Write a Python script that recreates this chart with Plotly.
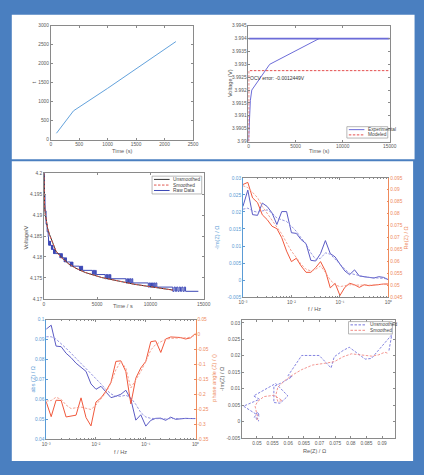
import plotly.graph_objects as go

# ---------------- data ----------------
# Panel A: t against elapsed time
calib_time = [100, 400, 1000, 2200]
calib_t = [165, 757, 1350, 2583]

# Panel B: OCV relaxation, experiment vs model
exp_time = [0, 30, 60, 100, 200, 350, 2250, 7500, 15000]
exp_voltage = [3.9900, 3.9903, 3.9908, 3.9912, 3.9916, 3.9920, 3.9930, 3.9940, 3.9940]
ocv_time = [0, 15000]
ocv_voltage = [3.9940, 3.9940]
model_time = [30, 30, 15000]
model_voltage = [3.9900, 3.9927551, 3.9927551]
ocv_error = -0.0012449

# Panel C: relaxation voltage, fitted curves and raw samples
fit_time = [0, 20, 60, 120, 210, 350, 520, 800, 1130, 1600, 2350, 3000, 3870,
            5400, 7000, 8440, 10000, 11500, 12100]
unsmoothed_v = [4.2000, 4.1955, 4.1925, 4.1903, 4.1885, 4.1868, 4.1854, 4.1835,
                4.1814, 4.1800, 4.1783, 4.1773, 4.1763, 4.1751, 4.1742, 4.1735,
                4.1729, 4.1724, 4.1721]
smoothed_v = [4.2000, 4.1957, 4.1926, 4.1904, 4.1886, 4.1868, 4.1853, 4.1834,
              4.1814, 4.1799, 4.1783, 4.1773, 4.1763, 4.1751, 4.1742, 4.1735,
              4.1729, 4.1724, 4.1721]
raw_time = [0, 40, 100, 200, 300, 400,
            430, 450, 470, 490, 510, 530, 550, 575, 600, 610,
            700, 720, 745, 770, 795, 820, 830,
            900, 925, 950, 975, 1000, 1030, 1060,
            1500, 1540, 1580, 1620, 1660, 1700, 1720,
            1900, 1935, 1970, 2005, 2040, 2075, 2110,
            2480, 2520, 2560, 2600, 2640, 2680, 2720,
            3330, 3380, 3430, 3480, 3530, 3580, 3630,
            4550, 4610, 4670, 4730, 4790, 4850, 4910,
            5750, 5820, 5890, 5960, 6030, 6100, 6170, 6240, 6280,
            7700, 7780, 7860, 7940, 8020, 8100, 8180, 8260, 8340,
            9800, 9900, 10000, 10100, 10200, 10300, 10400, 10500, 10600,
            12100, 12220, 12340, 12460, 12580, 12700, 12820, 12940, 13060, 13180, 13300,
            14500]
raw_voltage = [4.2000, 4.1950, 4.1910, 4.1878, 4.1860, 4.1848,
               4.1838, 4.1828, 4.1838, 4.1828, 4.1838, 4.1828, 4.1838, 4.1828, 4.1838, 4.1828,
               4.1818, 4.1828, 4.1818, 4.1828, 4.1818, 4.1828, 4.1818,
               4.1808, 4.1818, 4.1808, 4.1818, 4.1808, 4.1818, 4.1808,
               4.1798, 4.1808, 4.1798, 4.1808, 4.1798, 4.1808, 4.1798,
               4.1788, 4.1798, 4.1788, 4.1798, 4.1788, 4.1798, 4.1788,
               4.1778, 4.1788, 4.1778, 4.1788, 4.1778, 4.1788, 4.1778,
               4.1768, 4.1778, 4.1768, 4.1778, 4.1768, 4.1778, 4.1768,
               4.1758, 4.1768, 4.1758, 4.1768, 4.1758, 4.1768, 4.1758,
               4.1748, 4.1758, 4.1748, 4.1758, 4.1748, 4.1758, 4.1748, 4.1758, 4.1748,
               4.1738, 4.1748, 4.1738, 4.1748, 4.1738, 4.1748, 4.1738, 4.1748, 4.1738,
               4.1728, 4.1738, 4.1728, 4.1738, 4.1728, 4.1738, 4.1728, 4.1738, 4.1728,
               4.1718, 4.1728, 4.1718, 4.1728, 4.1718, 4.1728, 4.1718, 4.1728, 4.1718, 4.1728, 4.1718,
               4.1718]

# Panels D-F: impedance spectrum
freq = [0.001, 0.00126, 0.00158, 0.002, 0.00251, 0.00316, 0.00398, 0.00501,
        0.00631, 0.00794, 0.01, 0.0126, 0.0158, 0.02, 0.0251, 0.0316, 0.0398,
        0.0501, 0.0631, 0.0794, 0.1, 0.126, 0.158, 0.2, 0.251, 0.316, 0.398,
        0.501, 0.631, 0.794, 1.0]
neg_im_raw = [0.0216, 0.0264, 0.0192, 0.0190, 0.0226, 0.0216, 0.0197, 0.0163,
              0.0201, 0.0201, 0.0139, 0.0137, 0.0119, 0.0107, 0.0058, 0.0056,
              0.0078, 0.0116, 0.0078, 0.0068, 0.0047, 0.0027, 0.0016, 0.0030,
              0.0012, 0.0010, 0.0006, 0.0006, 0.0010, 0.0008, 0.0001]
neg_im_smooth = [0.0208, 0.0211, 0.0203, 0.0199, 0.0203, 0.0206, 0.0197, 0.0182,
                 0.0177, 0.0172, 0.0158, 0.0143, 0.0124, 0.0105, 0.0080, 0.0061,
                 0.0064, 0.0080, 0.0076, 0.0061, 0.0047, 0.0032, 0.0020, 0.0016,
                 0.0013, 0.0010, 0.0008, 0.0006, 0.0006, 0.0005, 0.0003]
re_raw = [0.0922, 0.0931, 0.0866, 0.0846, 0.0795, 0.0775, 0.0747, 0.0737,
          0.0699, 0.0643, 0.0599, 0.0613, 0.0581, 0.0554, 0.0554, 0.0574,
          0.0599, 0.0560, 0.0489, 0.0508, 0.0457, 0.0491, 0.0508, 0.0502,
          0.0491, 0.0502, 0.0498, 0.0501, 0.0502, 0.0505, 0.0505]
re_smooth = [0.0917, 0.0909, 0.0889, 0.0867, 0.0830, 0.0802, 0.0775, 0.0747,
             0.0715, 0.0678, 0.0643, 0.0616, 0.0588, 0.0567, 0.0560, 0.0567,
             0.0581, 0.0554, 0.0522, 0.0502, 0.0494, 0.0498, 0.0502, 0.0501,
             0.0500, 0.0500, 0.0500, 0.0501, 0.0502, 0.0503, 0.0505]
abs_raw = [0.0952, 0.0972, 0.0867, 0.0864, 0.0831, 0.0809, 0.0781, 0.0760,
           0.0740, 0.0677, 0.0650, 0.0665, 0.0635, 0.0608, 0.0615, 0.0625,
           0.0645, 0.0600, 0.0495, 0.0522, 0.0465, 0.0494, 0.0504, 0.0505,
           0.0494, 0.0510, 0.0499, 0.0502, 0.0504, 0.0503, 0.0503]
abs_smooth = [0.0914, 0.0914, 0.0902, 0.0881, 0.0856, 0.0831, 0.0806, 0.0781,
              0.0756, 0.0731, 0.0703, 0.0677, 0.0649, 0.0627, 0.0615, 0.0615,
              0.0620, 0.0607, 0.0574, 0.0533, 0.0511, 0.0504, 0.0503, 0.0501,
              0.0501, 0.0503, 0.0503, 0.0503, 0.0503, 0.0503, 0.0503]
phase_raw = [-0.225, -0.275, -0.220, -0.221, -0.276, -0.273, -0.270, -0.212,
             -0.278, -0.306, -0.226, -0.212, -0.190, -0.160, -0.090, -0.088,
             -0.124, -0.232, -0.146, -0.112, -0.090, -0.024, -0.021, -0.060,
             -0.015, -0.008, -0.008, -0.010, -0.015, -0.011, 0.004]
phase_smooth = [-0.223, -0.221, -0.210, -0.217, -0.236, -0.248, -0.245, -0.243,
                -0.247, -0.251, -0.236, -0.217, -0.195, -0.162, -0.118, -0.090,
                -0.113, -0.179, -0.151, -0.124, -0.090, -0.052, -0.033, -0.024,
                -0.016, -0.013, -0.011, -0.011, -0.011, -0.009, -0.002]

# tick labels
volt_b_ticks = [3.99, 3.9905, 3.991, 3.9915, 3.992, 3.9925, 3.993, 3.9935, 3.994, 3.9945]
volt_b_text = ["3.99", "3.9905", "3.991", "3.9915", "3.992", "3.9925", "3.993", "3.9935", "3.994", "3.9945"]
volt_c_ticks = [4.17, 4.175, 4.18, 4.185, 4.19, 4.195, 4.2]
volt_c_text = ["4.17", "4.175", "4.18", "4.185", "4.19", "4.195", "4.2"]
time_ticks = [0, 5000, 10000, 15000]
time_text = ["0", "5000", "10000", "15000"]
imz_ticks = [-0.005, 0, 0.005, 0.01, 0.015, 0.02, 0.025, 0.03]
imz_text = ["-0.005", "0", "0.005", "0.01", "0.015", "0.02", "0.025", "0.03"]
rez_ticks = [0.045, 0.05, 0.055, 0.06, 0.065, 0.07, 0.075, 0.08, 0.085, 0.09, 0.095]
rez_text = ["0.045", "0.05", "0.055", "0.06", "0.065", "0.07", "0.075", "0.08", "0.085", "0.09", "0.095"]
absz_ticks = [0.04, 0.05, 0.06, 0.07, 0.08, 0.09, 0.1]
absz_text = ["0.04", "0.05", "0.06", "0.07", "0.08", "0.09", "0.1"]
phase_ticks = [-0.35, -0.3, -0.25, -0.2, -0.15, -0.1, -0.05, 0, 0.05]
phase_text = ["-0.35", "-0.3", "-0.25", "-0.2", "-0.15", "-0.1", "-0.05", "0", "0.05"]
nyq_x_ticks = [0.05, 0.055, 0.06, 0.065, 0.07, 0.075, 0.08, 0.085, 0.09]
nyq_x_text = ["0.05", "0.055", "0.06", "0.065", "0.07", "0.075", "0.08", "0.085", "0.09"]
freq_ticks = [0.001, 0.01, 0.1, 1]
freq_text = ["10\u207b\u00b3", "10\u207b\u00b2", "10\u207b\u00b9", "10\u2070"]
freq_minor = [m * d for d in (0.001, 0.01, 0.1) for m in range(2, 10)]

# ---------------- styling ----------------
W, H = 424, 475
FRAME = "#4a7fc0"
AXC = "#8a8a8a"
TXT = "#5a5a5a"
FONT = "Liberation Sans, Arial, sans-serif"
LEFT_C = "#5b9bd5"
RIGHT_C = "#ee8a5c"
TICK_FS = 4.8
TITLE_FS = 5.6
DASH = "2.5px,1.5px"


def fx(px):
    return px / W


def fy(py):
    return 1 - py / H


def xdom(a, b):
    return [fx(a), fx(b)]


def ydom(top, bottom):
    return [fy(bottom), fy(top)]


def ax(**kw):
    base = dict(showline=True, linecolor=AXC, linewidth=0.8, mirror="ticks",
                ticks="inside", ticklen=2, tickwidth=0.7, tickcolor=AXC,
                showgrid=False, zeroline=False, fixedrange=True,
                tickfont=dict(size=TICK_FS, color=TXT, family=FONT))
    base.update(kw)
    return base


fig = go.Figure()

# Panel A
fig.add_trace(go.Scatter(x=calib_time, y=calib_t, mode="lines", name="t",
                         line=dict(color="#63a2dc", width=1), xaxis="x", yaxis="y"))
# Panel B
fig.add_trace(go.Scatter(x=ocv_time, y=ocv_voltage, mode="lines", name="Experimental",
                         line=dict(color="#6c6cd8", width=1.8), xaxis="x2", yaxis="y2"))
fig.add_trace(go.Scatter(x=exp_time, y=exp_voltage, mode="lines", name="Experimental",
                         line=dict(color="#6c6cd8", width=1), xaxis="x2", yaxis="y2"))
fig.add_trace(go.Scatter(x=model_time, y=model_voltage, mode="lines", name="Modeled",
                         line=dict(color="#e45050", width=1, dash=DASH), xaxis="x2", yaxis="y2"))
# Panel C
fig.add_trace(go.Scatter(x=raw_time, y=raw_voltage, mode="lines", name="Raw Data",
                         line=dict(color="#3c48b6", width=1, shape="hv"), xaxis="x3", yaxis="y3"))
fig.add_trace(go.Scatter(x=fit_time, y=unsmoothed_v, mode="lines", name="Unsmoothed",
                         line=dict(color="#333333", width=1), xaxis="x3", yaxis="y3"))
fig.add_trace(go.Scatter(x=fit_time, y=smoothed_v, mode="lines", name="Smoothed",
                         line=dict(color="#e05a50", width=1, dash=DASH), xaxis="x3", yaxis="y3"))
# Panel D
fig.add_trace(go.Scatter(x=freq, y=neg_im_raw, mode="lines", name="-Im(Z)",
                         line=dict(color="#5b5bc4", width=1), xaxis="x4", yaxis="y4"))
fig.add_trace(go.Scatter(x=freq, y=neg_im_smooth, mode="lines", name="-Im(Z) smoothed",
                         line=dict(color="#8888dc", width=0.9, dash=DASH), xaxis="x4", yaxis="y4"))
fig.add_trace(go.Scatter(x=freq, y=re_raw, mode="lines", name="Re(Z)",
                         line=dict(color="#f0583c", width=1), xaxis="x4", yaxis="y5"))
fig.add_trace(go.Scatter(x=freq, y=re_smooth, mode="lines", name="Re(Z) smoothed",
                         line=dict(color="#f49a88", width=0.9, dash=DASH), xaxis="x4", yaxis="y5"))
# Panel E
fig.add_trace(go.Scatter(x=freq, y=abs_raw, mode="lines", name="abs(Z)",
                         line=dict(color="#5b5bc4", width=1), xaxis="x5", yaxis="y6"))
fig.add_trace(go.Scatter(x=freq, y=abs_smooth, mode="lines", name="abs(Z) smoothed",
                         line=dict(color="#8888dc", width=0.9, dash=DASH), xaxis="x5", yaxis="y6"))
fig.add_trace(go.Scatter(x=freq, y=phase_raw, mode="lines", name="phase",
                         line=dict(color="#f0583c", width=1), xaxis="x5", yaxis="y7"))
fig.add_trace(go.Scatter(x=freq, y=phase_smooth, mode="lines", name="phase smoothed",
                         line=dict(color="#f49a88", width=0.9, dash=DASH), xaxis="x5", yaxis="y7"))
# Panel F: Nyquist
fig.add_trace(go.Scatter(x=re_raw, y=neg_im_raw, mode="lines", name="Unsmoothed",
                         line=dict(color="#7676dc", width=0.9, dash=DASH), xaxis="x6", yaxis="y8"))
fig.add_trace(go.Scatter(x=re_smooth, y=neg_im_smooth, mode="lines", name="Smoothed",
                         line=dict(color="#f08a84", width=0.9, dash=DASH), xaxis="x6", yaxis="y8"))

logx = dict(type="log", range=[-3, 0], tickvals=freq_ticks, ticktext=freq_text,
            minor=dict(ticks="inside", ticklen=1.2, tickcolor=AXC, tickvals=freq_minor))

fig.update_layout(
    width=W, height=H, margin=dict(l=0, r=0, t=0, b=0),
    paper_bgcolor=FRAME, plot_bgcolor="white", showlegend=False,
    font=dict(family=FONT, color=TXT),
    xaxis=ax(domain=xdom(48, 194), anchor="y", range=[0, 2500], tickvals=[0, 500, 1000, 1500, 2000, 2500]),
    yaxis=ax(domain=ydom(24, 139), anchor="x", range=[0, 3000], tickvals=[0, 500, 1000, 1500, 2000, 2500, 3000]),
    xaxis2=ax(domain=xdom(251, 396), anchor="y2", range=[0, 15000], tickvals=time_ticks, ticktext=time_text),
    yaxis2=ax(domain=ydom(24, 141), anchor="x2", range=[3.99, 3.9945], tickvals=volt_b_ticks, ticktext=volt_b_text),
    xaxis3=ax(domain=xdom(41, 205), anchor="y3", range=[0, 15000], tickvals=time_ticks, ticktext=time_text),
    yaxis3=ax(domain=ydom(173, 300), anchor="x3", range=[4.17, 4.2], tickvals=volt_c_ticks, ticktext=volt_c_text),
    xaxis4=ax(domain=xdom(245.3, 394.7), anchor="y4", **logx),
    yaxis4=ax(domain=ydom(177.7, 298.3), anchor="x4", range=[-0.005, 0.03], tickvals=imz_ticks, ticktext=imz_text,
              mirror=False, linecolor=LEFT_C, tickcolor=LEFT_C, tickfont=dict(size=TICK_FS, color=LEFT_C, family=FONT)),
    yaxis5=ax(overlaying="y4", side="right", anchor="x4", range=[0.045, 0.095], tickvals=rez_ticks, ticktext=rez_text,
              mirror=False, linecolor=RIGHT_C, tickcolor=RIGHT_C, tickfont=dict(size=TICK_FS, color=RIGHT_C, family=FONT)),
    xaxis5=ax(domain=xdom(43.3, 196.7), anchor="y6", **logx),
    yaxis6=ax(domain=ydom(321, 441.7), anchor="x5", range=[0.04, 0.1], tickvals=absz_ticks, ticktext=absz_text,
              mirror=False, linecolor=LEFT_C, tickcolor=LEFT_C, tickfont=dict(size=TICK_FS, color=LEFT_C, family=FONT)),
    yaxis7=ax(overlaying="y6", side="right", anchor="x5", range=[-0.35, 0.05], tickvals=phase_ticks, ticktext=phase_text,
              mirror=False, linecolor=RIGHT_C, tickcolor=RIGHT_C, tickfont=dict(size=TICK_FS, color=RIGHT_C, family=FONT)),
    xaxis6=ax(domain=xdom(244.3, 401), anchor="y8", range=[0.0452, 0.0940], tickvals=nyq_x_ticks, ticktext=nyq_x_text),
    yaxis8=ax(domain=ydom(321, 440.7), anchor="x6", range=[-0.005, 0.031], tickvals=imz_ticks, ticktext=imz_text),
)

shapes = []
annotations = []


def rect(x0, y0, x1, y1, fill="white"):
    shapes.append(dict(type="rect", xref="paper", yref="paper", x0=fx(x0), x1=fx(x1),
                       y0=fy(y1), y1=fy(y0), fillcolor=fill, layer="below",
                       line=dict(width=0)))


def text(px, py, s, size=TITLE_FS, color=TXT, angle=0, xanchor="center"):
    annotations.append(dict(xref="paper", yref="paper", x=fx(px), y=fy(py), text=s,
                            showarrow=False, textangle=angle, xanchor=xanchor, yanchor="middle",
                            font=dict(size=size, color=color, family=FONT)))


def legend_box(x0, y0, x1, y1, entries):
    shapes.append(dict(type="rect", xref="paper", yref="paper", x0=fx(x0), x1=fx(x1),
                       y0=fy(y1), y1=fy(y0), fillcolor="white", layer="above",
                       line=dict(color="#9a9a9a", width=0.7)))
    for (ly, label, color, dash) in entries:
        shapes.append(dict(type="line", xref="paper", yref="paper", x0=fx(x0 + 2), x1=fx(x0 + 18),
                           y0=fy(ly), y1=fy(ly), layer="above",
                           line=dict(color=color, width=1, dash=dash)))
        text(x0 + 19.5, ly, label, size=4.8, color="#444", xanchor="left")


# white panels on the blue frame
rect(8, 13, 421.5, 159)
rect(8, 161, 420, 464)

# axis titles
text(121, 150.3, "Time (s)")
text(31, 81, "t", angle=-90)
text(323, 150.7, "Time (s)")
text(232, 82, "Voltage (V)", angle=-90)
text(122, 307.5, "Time / s")
text(22.7, 238, "Voltage/V", angle=-90)
text(319, 310, "f / Hz")
text(218.7, 238, "-Im(Z) / \u03a9", color=LEFT_C, angle=-90)
text(413.7, 238, "Re(Z) / \u03a9", color=RIGHT_C, angle=-90)
text(120, 454.5, "f / Hz")
text(29.3, 381, "abs (Z) / \u03a9", color=LEFT_C, angle=-90)
text(215.3, 380, "phase angle (Z) / ()", color=RIGHT_C, angle=-90)
text(319, 454, "Re(Z) / \u03a9")
text(223.7, 381, "-Im(Z) / \u03a9", angle=-90)

# OCV error label
annotations.append(dict(xref="x2", yref="y2", x=0, y=model_voltage[-1], yshift=-2.5,
                        text=f"OCV error: {ocv_error}V", showarrow=False, xanchor="left",
                        yanchor="top", font=dict(size=5, color="#333", family=FONT)))

legend_box(352, 126, 394, 137.5, [(129, "Experimental", "#6c6cd8", "solid"),
                                  (134.3, "Modeled", "#e45050", DASH)])
legend_box(152, 176, 203, 194, [(179.3, "Unsmoothed", "#333333", "solid"),
                                (185, "Smoothed", "#e05a50", DASH),
                                (190.5, "Raw Data", "#3c48b6", "solid")])
legend_box(353.7, 323, 398.7, 335.5, [(326.3, "Unsmoothed", "#7676dc", DASH),
                                      (331.8, "Smoothed", "#f08a84", DASH)])

fig.update_layout(shapes=shapes, annotations=annotations)
fig.write_html("out.html")
